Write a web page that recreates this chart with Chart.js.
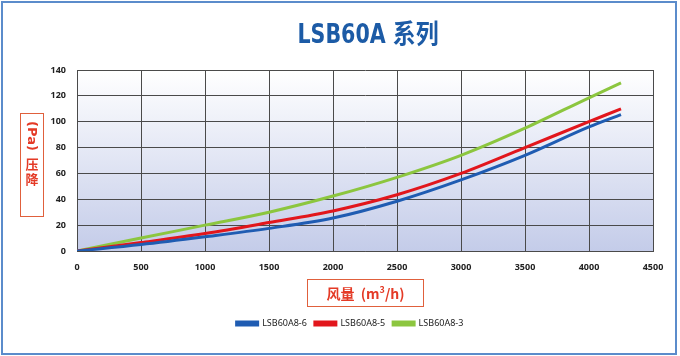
<!DOCTYPE html>
<html>
<head>
<meta charset="utf-8">
<script src="https://cdn.jsdelivr.net/npm/chart.js@4.4.0/dist/chart.umd.min.js"></script>
<style>
  html, body { margin: 0; padding: 0; background: #fff; }
  #wrap { position: relative; width: 680px; height: 356px; overflow: hidden; }
  #frame { position: absolute; left: 1px; top: 1px; width: 672px; height: 350px; border: 2px solid #5b8ccb; pointer-events: none; }
  #title { position: absolute; left: 0; top: 13px; width: 736px; text-align: center; font-family: "DejaVu Sans", "Noto Sans CJK SC", sans-serif; font-stretch: condensed; font-weight: bold; font-size: 26px; color: #1c5ba6; transform: scaleX(0.88); transform-origin: 368px 0; }
  #ybox { position: absolute; left: 20px; top: 113px; width: 22px; height: 102px; border: 1.5px solid #e0603c; color: #e43a26; font-family: "DejaVu Sans", "Noto Sans CJK SC", sans-serif; font-weight: bold; font-size: 13px; }
  #ybox .pa { position: absolute; left: 11px; top: 22px; transform: translate(-50%, -50%) rotate(90deg); white-space: nowrap; font-size: 13px; }
  #ybox .cn { position: absolute; left: 0; top: 42px; width: 22px; text-align: center; line-height: 15px; font-family: "Noto Sans CJK SC", sans-serif; font-size: 13px; }
  #xbox { position: absolute; left: 307px; top: 279px; width: 115px; height: 26px; border: 1.5px solid #e0603c; color: #e43a26; font-family: "Noto Sans CJK SC", sans-serif; font-weight: bold; font-size: 14px; text-align: center; line-height: 26px; }
  #xbox sup { font-size: 9px; line-height: 0; }
  canvas { position: absolute; left: 0; top: 0; }
</style>
</head>
<body>
<div id="wrap">
  <canvas id="c" width="680" height="356"></canvas>
  <div id="title">LSB60A 系列</div>
  <div id="ybox"><div class="pa">(Pa)</div><div class="cn">压<br>降</div></div>
  <div id="xbox">风量&nbsp; (m<sup>3</sup>/h)</div>
  <div id="frame"></div>
</div>
<script>
const flows = [0, 500, 1000, 1500, 2000, 2500, 3000, 3500, 4000, 4250];
const seriesNames = ["LSB60A8-6", "LSB60A8-5", "LSB60A8-3"];
const blueVals  = [0, 5, 11, 17.5, 25.5, 38.5, 55, 74, 96, 105.5];
const redVals   = [0, 6.5, 13.5, 22, 31, 43.5, 60, 80, 100, 110];
const greenVals = [0, 10, 20, 30, 42.5, 57, 74, 95, 118.5, 130];
const xTicks = [0, 500, 1000, 1500, 2000, 2500, 3000, 3500, 4000, 4500];
const yTicks = [0, 20, 40, 60, 80, 100, 120, 140];

const toPts = vals => flows.map((x, i) => ({x: x, y: vals[i]}));

const bgPlugin = {
  id: 'bg',
  beforeDraw(chart) {
    const a = chart.chartArea, ctx = chart.ctx;
    const g = ctx.createLinearGradient(0, a.top, 0, a.bottom);
    g.addColorStop(0, '#ffffff');
    g.addColorStop(1, '#c4cce9');
    ctx.save();
    ctx.fillStyle = g;
    ctx.fillRect(a.left, a.top, a.right - a.left, a.bottom - a.top);
    ctx.restore();
  }
};

const fam = "'Noto Sans', sans-serif";
const tickFont = { family: fam, size: 9, weight: 'bold' };

new Chart(document.getElementById('c'), {
  type: 'line',
  data: {
    datasets: [
      { label: seriesNames[0], data: toPts(blueVals), borderColor: '#1f5cb2', backgroundColor: '#1f5cb2' },
      { label: seriesNames[1], data: toPts(redVals), borderColor: '#e2161c', backgroundColor: '#e2161c' },
      { label: seriesNames[2], data: toPts(greenVals), borderColor: '#8cc63f', backgroundColor: '#8cc63f' }
    ].map(d => Object.assign(d, { borderWidth: 3, pointRadius: 0, cubicInterpolationMode: 'monotone', fill: false }))
  },
  options: {
    responsive: false,
    animation: false,
    layout: { padding: { top: 70, left: 47, right: 27, bottom: 18 } },
    plugins: {
      title: { display: false },
      tooltip: { enabled: false },
      legend: {
        position: 'bottom',
        labels: {
          boxWidth: 21, boxHeight: 3, padding: 8,
          color: '#222',
          font: { family: fam, size: 9 }
        }
      }
    },
    scales: {
      x: {
        type: 'linear', min: 0, max: 4500,
        afterBuildTicks: s => { s.ticks = xTicks.map(v => ({ value: v })); },
        afterFit: s => { s.height = 60; },
        grid: { color: '#4a4a4a', lineWidth: 1, drawTicks: false },
        border: { color: '#4a4a4a' },
        ticks: { padding: 11, color: '#222', font: tickFont, maxRotation: 0, callback: v => String(v) }
      },
      y: {
        min: 0, max: 140,
        afterBuildTicks: s => { s.ticks = yTicks.map(v => ({ value: v })); },
        afterFit: s => { s.width = 30; },
        grid: { color: '#4a4a4a', lineWidth: 1, drawTicks: false },
        border: { color: '#4a4a4a' },
        ticks: { padding: 11, color: '#222', font: tickFont, callback: v => String(v) }
      }
    }
  },
  plugins: [bgPlugin]
});
</script>
</body>
</html>
